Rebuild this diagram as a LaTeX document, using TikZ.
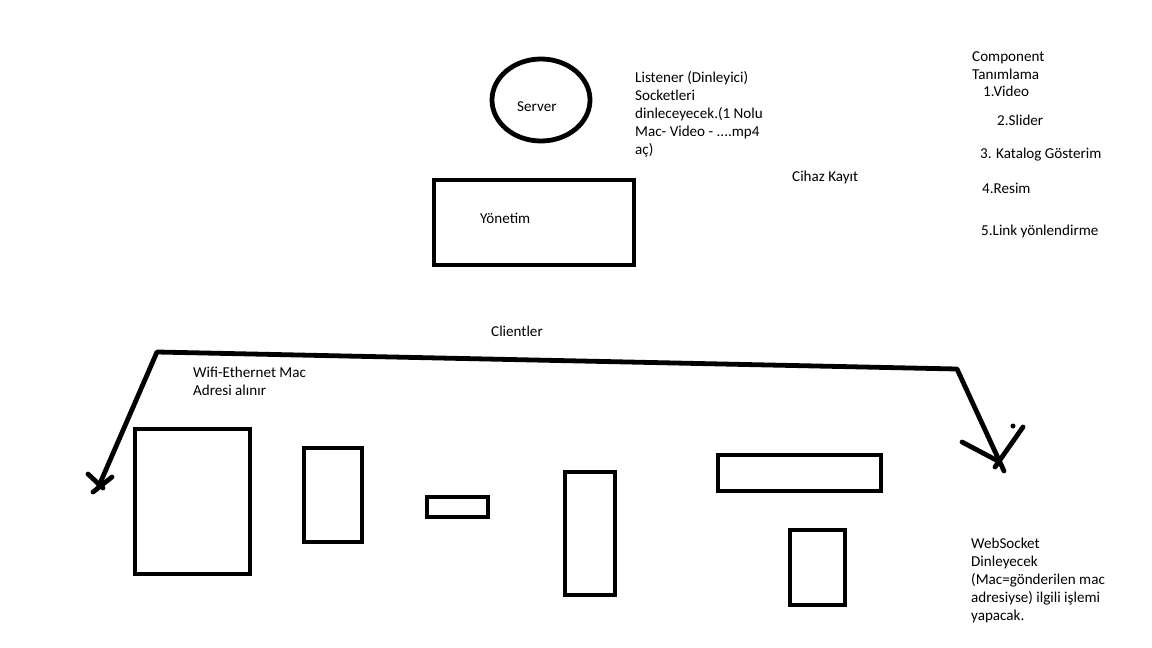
\documentclass[tikz,border=0pt]{standalone}
\usepackage{fontspec}
\setmainfont{Carlito}
\usetikzlibrary{shapes}

\begin{document}
\begin{tikzpicture}[x=1pt,y=-1pt,
    pen/.style={line width=4.8pt},
    lbl/.style={anchor=base west, inner sep=0pt, align=left,
      font=\fontsize{15.1}{18}\selectfont}]
  \useasboundingbox (0,0) rectangle (1152,648); %Page size

  %Server and Yonetim
  \draw[pen] (541,100) ellipse (49 and 41) ;       %Server outline
  \node[lbl] (server) at (517,111) {Server};
  \draw[pen] (434,180) rectangle (634,265) ;       %Yonetim box
  \node[lbl] (yonetim) at (480,223) {Yönetim};

  %Notes at the top (base = last line)
  \node[lbl] (listener) at (635,154) {Listener (Dinleyici)\\Socketleri\\dinleceyecek.(1 Nolu\\Mac- Video - ....mp4\\aç)};
  \node[lbl] (cihaz) at (792,181) {Cihaz Kayıt};
  \node[lbl] (component) at (972,79) {Component\\Tanımlama};
  \node[lbl] (video) at (983,96) {1.Video};
  \node[lbl] (slider) at (997,125) {2.Slider};
  \node[lbl] (katalog) at (980,158) {3. Katalog Gösterim};
  \node[lbl] (resim) at (982,193) {4.Resim};
  \node[lbl] (link) at (981,235) {5.Link yönlendirme};

  %Clients line with both arrows
  \node[lbl] (clientler) at (491,336) {Clientler};
  \coordinate (lt) at (98,488) ;    %Left arrow tip
  \coordinate (lc) at (157,352) ;   %Left corner
  \coordinate (rc) at (957,369) ;   %Right corner
  \coordinate (rt) at (1004,471) ;  %Right arrow tip
  \draw[pen,line cap=round,line join=round] (lt) -- (lc) -- (rc) -- (rt) ;
  \draw[pen,line cap=round] (88,474) -- (103,488) ;   %Left head
  \draw[pen,line cap=round] (112,477) -- (93,492) ;
  \draw[pen,line cap=round] (962,442) -- (998,461) ;  %Right head
  \draw[pen,line cap=round] (1023,427) -- (995,467) ;
  \fill (1013,426) circle (2.5) ;                       %Stray dot
  \node[lbl] (wifi) at (193,395) {Wifi-Ethernet Mac\\Adresi alınır};

  %Client screens
  \draw[pen] (135,429) rectangle (250,574) ;
  \draw[pen] (304,448) rectangle (362,542) ;
  \draw[pen] (427,497) rectangle (488,517) ;
  \draw[pen] (565,472) rectangle (615,595) ;
  \draw[pen] (718,455) rectangle (881,491) ;
  \draw[pen] (790,530) rectangle (845,605) ;

  \node[lbl] (websocket) at (971,620) {WebSocket\\Dinleyecek\\(Mac=gönderilen mac\\adresiyse) ilgili işlemi\\yapacak.};
\end{tikzpicture}
\end{document}
